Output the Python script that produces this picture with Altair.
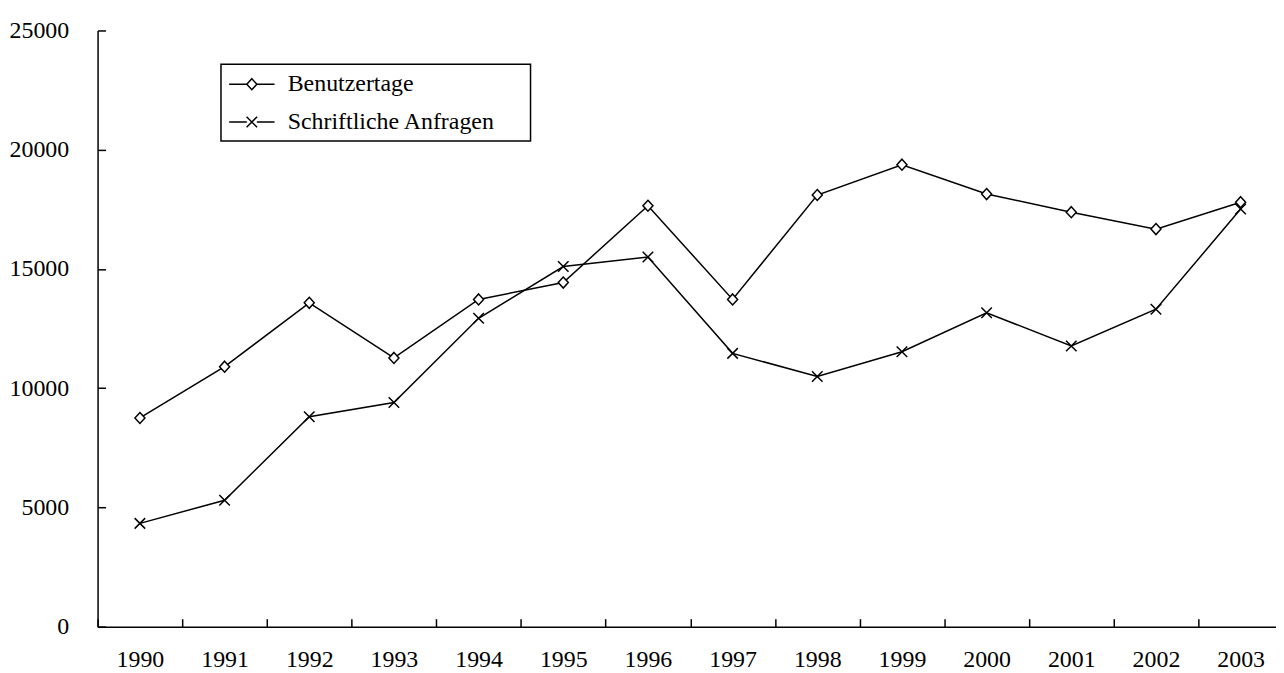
import altair as alt
import pandas as pd

years = [str(y) for y in range(1990, 2004)]
benutzertage = [8750, 10900, 13580, 11270, 13720, 14430, 17650,
                13720, 18100, 19370, 18140, 17380, 16670, 17800]
anfragen = [4330, 5300, 8800, 9400, 12930, 15100, 15500,
            11460, 10490, 11530, 13160, 11770, 13310, 17510]
series_names = ["Benutzertage", "Schriftliche Anfragen"]
y_ticks = [0, 5000, 10000, 15000, 20000, 25000]

df = pd.DataFrame({
    "Jahr": years * 2,
    "Wert": benutzertage + anfragen,
    "Reihe": [series_names[0]] * len(years) + [series_names[1]] * len(years),
})

FONT = "Liberation Serif"
SIZE = 576  # symbol area -> 24 px unit box

diamond_path = "M0,-0.46L0.42,0L0,0.46L-0.42,0Z"
cross_path = "M-0.44,-0.44L0.44,0.44M-0.44,0.44L0.44,-0.44"
leg_line = "M-1.9,0L-0.42,0M0.42,0L1.9,0"

LEG_COMMON = dict(
    orient="none", legendX=124, legendY=34, padding=7,
    labelFont=FONT, labelFontSize=24, labelColor="black", labelLimit=600,
    labelOffset=23,
    symbolSize=SIZE, symbolStrokeWidth=1.5,
    symbolOpacity=1, symbolOffset=11, rowPadding=13,
    title="\u2003", titleOrient="right", titleFontSize=20, titlePadding=28,
    titleColor="white",
)

x_enc = alt.X(
    "Jahr:O", sort=years, bandPosition=0.5,
    scale=alt.Scale(type="band", paddingInner=0, paddingOuter=0),
    axis=alt.Axis(title=None, labelAngle=0, tickBand="extent",
                  tickSize={"expr": "-8"}, labelPadding=29),
)
y_enc = alt.Y(
    "Wert:Q",
    scale=alt.Scale(domain=[0, 25000], nice=False),
    axis=alt.Axis(title=None, values=y_ticks, format="d",
                  tickSize={"expr": "-8"}, labelPadding=37),
)

base = alt.Chart(df)

lines = base.mark_line(strokeWidth=1.5).encode(
    x=x_enc, y=y_enc,
    color=alt.Color(
        "Reihe:N",
        scale=alt.Scale(domain=series_names, range=["black", "black"]),
        legend=alt.Legend(symbolType=leg_line, labelOpacity=0,
                          strokeColor="transparent", **LEG_COMMON),
    ),
)

points = base.mark_point(filled=False, fill="white", stroke="black",
                         strokeWidth=1.5, size=SIZE, opacity=1).encode(
    x=x_enc, y=y_enc,
    shape=alt.Shape(
        "Reihe:N",
        scale=alt.Scale(domain=series_names, range=[diamond_path, cross_path]),
        legend=alt.Legend(strokeColor="black", **LEG_COMMON),
    ),
)

chart = alt.layer(lines, points).resolve_scale(
    color="independent", shape="independent"
).resolve_legend(color="independent", shape="independent").properties(
    width=1191, height=599,
    padding={"left": 90, "top": 21, "right": -7, "bottom": 44},
    autosize=alt.AutoSizeParams(type="none"),
).configure_view(stroke=None).configure_axis(
    domainColor="black", domainWidth=1.5, tickColor="black", tickWidth=1.5,
    labelFont=FONT, labelFontSize=24, labelColor="black", grid=False,
).configure_legend(strokeWidth=1.5)

chart.save("out.html", embed_options={"renderer": "svg", "actions": False})
